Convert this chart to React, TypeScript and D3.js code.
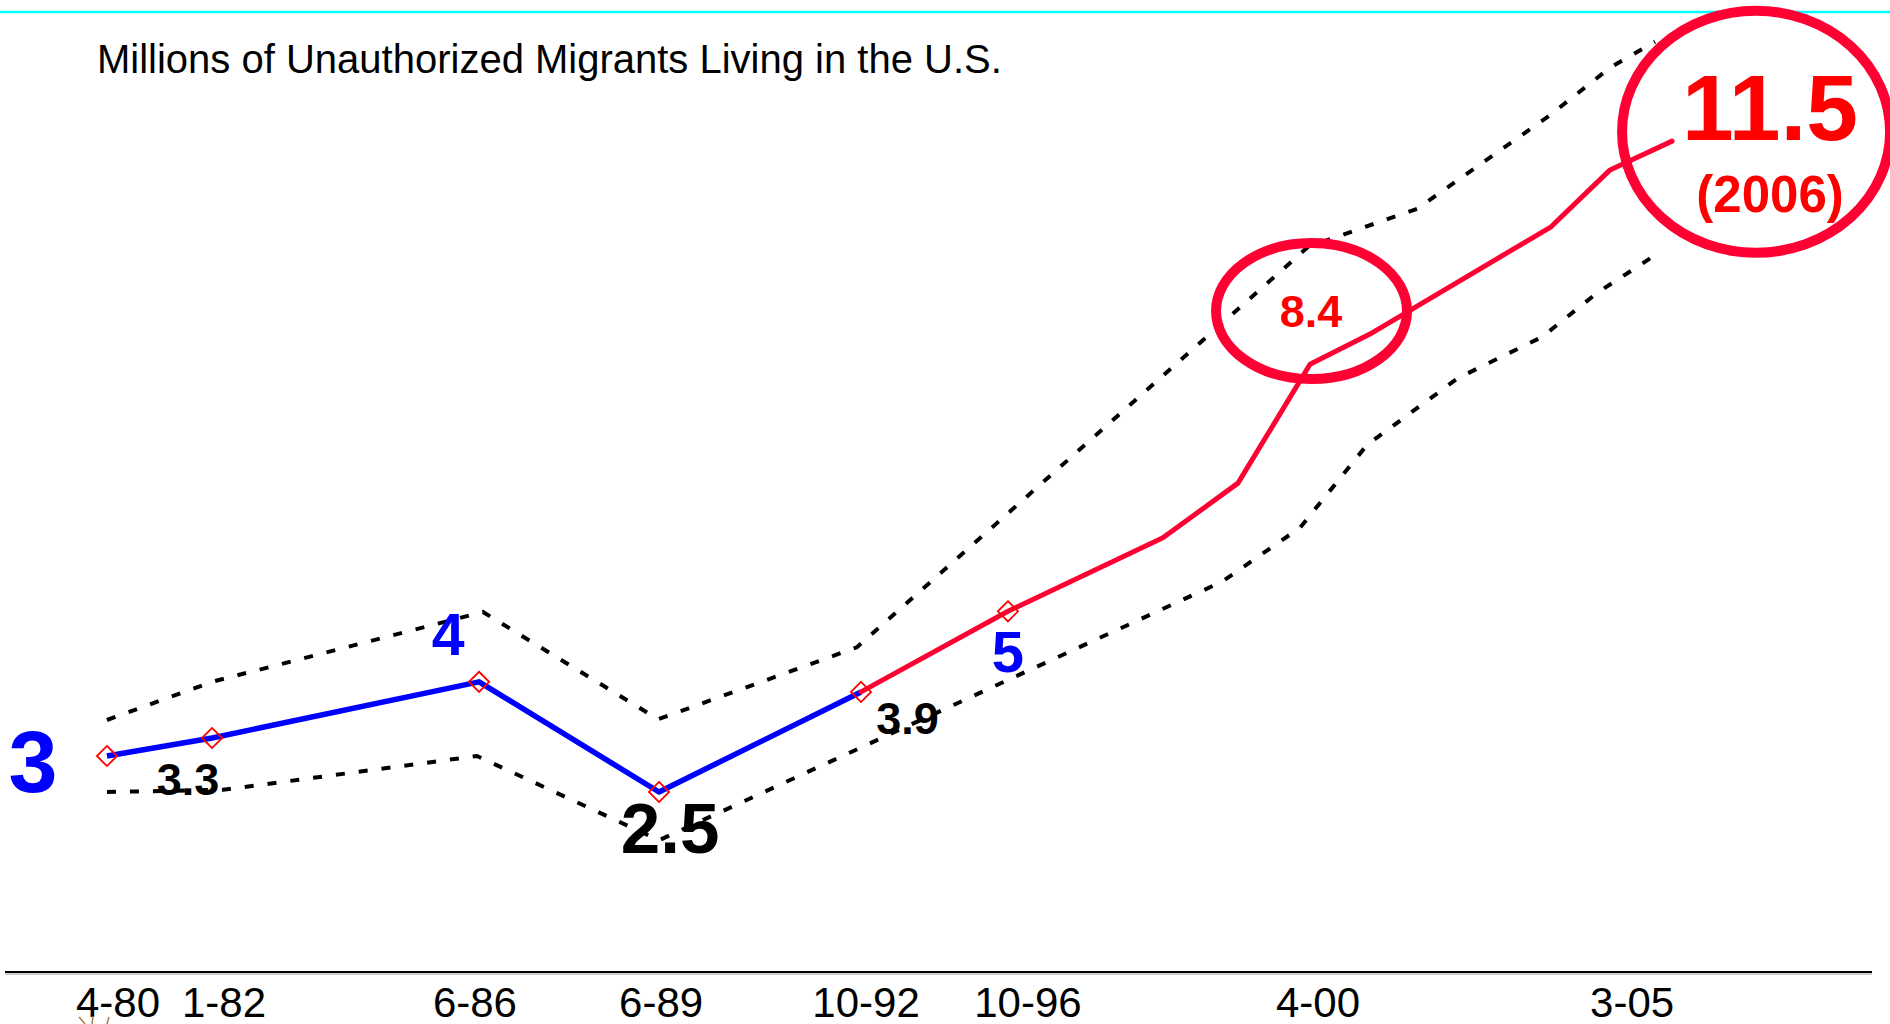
import React from 'react';
import * as d3 from 'd3';

const W = 1890;
const H = 1024;

const title = 'Millions of Unauthorized Migrants Living in the U.S.';

// horizontal position along the axis (0–100) and millions of migrants
const mainX = [5.46, 11.09, 25.39, 35.03, 45.85, 53.72, 62.02, 66.04, 69.9, 73.11, 82.81, 85.97, 89.29];
const mainV = [3.0, 3.25, 4.03, 2.5, 3.89, 5.01, 6.03, 6.79, 8.44, 8.86, 10.35, 11.14, 11.54];
const blueCount = 5;
const markerCount = 6;

const upperX = [5.46, 11.09, 25.6, 34.98, 45.63, 69.79, 75.63, 82.7, 85.97, 88.38];
const upperV = [3.5, 4.03, 5.0, 3.51, 4.51, 10.07, 10.6, 11.89, 12.56, 12.92];

const lowerX = [5.46, 11.68, 25.28, 35.03, 65.18, 69.36, 72.95, 77.83, 82.33, 85.27, 88.64];
const lowerV = [2.5, 2.53, 3.0, 1.83, 5.42, 6.17, 7.32, 8.25, 8.82, 9.43, 10.0];

const tickLabels = ['4-80', '1-82', '6-86', '6-89', '10-92', '10-96', '4-00', '3-05'];
const tickX = [6.05, 11.73, 25.17, 35.14, 46.12, 54.79, 70.33, 87.15];

const labelText = ['3', '4', '3.3', '2.5', '3.9', '5', '8.4', '11.5', '(2006)'];
const labelX = [1.5, 23.73, 9.8, 35.62, 48.34, 53.72, 69.95, 94.54, 94.54];
const labelV = [2.5, 4.4, 2.46, 1.65, 3.31, 4.17, 8.96, 11.56, 10.56];

const circleX = [69.98, 93.79];
const circleV = [9.18, 11.67];

const BLUE = '#0000FF';
const RED_LINE = '#FF0033';
const RED_TEXT = '#FF0000';
const FONT = '"Liberation Sans", Arial, Helvetica, sans-serif';

const labelStyle = [
  { color: BLUE, size: 88 },
  { color: BLUE, size: 59 },
  { color: '#000', size: 45 },
  { color: '#000', size: 71 },
  { color: '#000', size: 45 },
  { color: BLUE, size: 58 },
  { color: RED_TEXT, size: 45 },
  { color: RED_TEXT, size: 93 },
  { color: RED_TEXT, size: 51 },
];
const circleSize = [
  { rx: 95.5, ry: 68 },
  { rx: 134, ry: 121 },
];

export default function App() {
  React.useEffect(() => {
    document.body.style.margin = '0';
  }, []);

  const x = d3.scaleLinear().domain([0, 100]).range([5, 1872]);
  const y = d3.scaleLinear().domain([0, 13.5]).range([972, 0]);

  const line = d3
    .line<[number, number]>()
    .x((d) => x(d[0]))
    .y((d) => y(d[1]));

  const mainPts: [number, number][] = mainX.map((u, i) => [u, mainV[i]]);
  const bluePts = mainPts.slice(0, blueCount);
  const redPts = mainPts.slice(blueCount - 1);
  const upperPts: [number, number][] = upperX.map((u, i) => [u, upperV[i]]);
  const lowerPts: [number, number][] = lowerX.map((u, i) => [u, lowerV[i]]);

  const diamond = d3.symbol().type(d3.symbolDiamond2).size(260)();

  return (
    <svg width={W} height={H} style={{ display: 'block', background: '#fff' }} fontFamily={FONT}>
      <rect x={0} y={0} width={W} height={H} fill="#fff" />
      <line x1={0} x2={W} y1={12} y2={12} stroke="#00FFFF" strokeWidth={2.5} />
      <text x={97} y={73} fontSize={40} fill="#000">
        {title}
      </text>

      {/* axis */}
      <line x1={x(0)} x2={x(100)} y1={y(0)} y2={y(0)} stroke="#000" strokeWidth={2} />
      <line x1={x(0)} x2={x(100)} y1={y(0) + 2} y2={y(0) + 2} stroke="#999" strokeWidth={1} />
      {tickLabels.map((t, i) => (
        <text key={t} x={x(tickX[i])} y={1017} fontSize={42} textAnchor="middle" fill="#000">
          {t}
        </text>
      ))}

      {/* clip-art fragment at bottom left */}
      <g stroke="#B07A4A" strokeWidth={1.5} fill="none">
        <line x1={79} y1={1017} x2={85} y2={1024} />
        <line x1={93} y1={1016} x2={92} y2={1024} />
        <line x1={109} y1={1017} x2={107} y2={1024} />
      </g>

      {/* bounds */}
      <path d={line(upperPts) || ''} fill="none" stroke="#000" strokeWidth={4} strokeDasharray="9 14" />
      <path d={line(lowerPts) || ''} fill="none" stroke="#000" strokeWidth={4} strokeDasharray="9 14" />

      {/* main line */}
      <path d={line(bluePts) || ''} fill="none" stroke={BLUE} strokeWidth={5.5} strokeLinejoin="round" />
      <path d={line(redPts) || ''} fill="none" stroke={RED_LINE} strokeWidth={5} strokeLinejoin="round" strokeLinecap="round" />
      {mainPts.slice(0, markerCount).map((p, i) => (
        <path
          key={i}
          d={diamond || ''}
          transform={`translate(${x(p[0])},${y(p[1])})`}
          fill="none"
          stroke={RED_TEXT}
          strokeWidth={1.8}
        />
      ))}

      {/* labels */}
      {labelText.map((t, i) => (
        <text
          key={i}
          x={x(labelX[i])}
          y={y(labelV[i])}
          fontSize={labelStyle[i].size}
          fontWeight="bold"
          fill={labelStyle[i].color}
          textAnchor="middle"
        >
          {t}
        </text>
      ))}

      {/* circles */}
      {circleX.map((u, i) => (
        <ellipse
          key={i}
          cx={x(u)}
          cy={y(circleV[i])}
          rx={circleSize[i].rx}
          ry={circleSize[i].ry}
          fill="none"
          stroke={RED_LINE}
          strokeWidth={10}
        />
      ))}
    </svg>
  );
}
